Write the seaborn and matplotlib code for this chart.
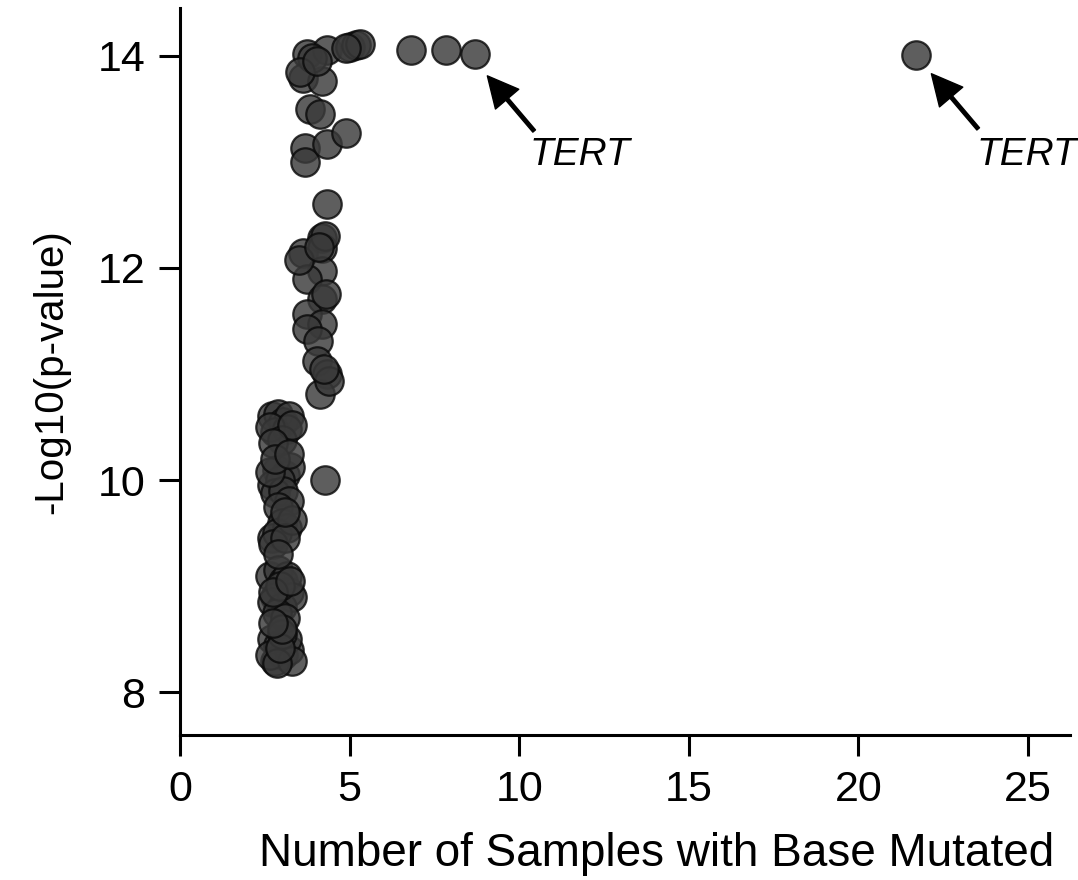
import numpy as np
import pandas as pd
import seaborn as sns
import matplotlib
matplotlib.use("Agg")
import matplotlib.pyplot as plt

# samples with base mutated / -log10(p)
x_top = [5.0, 5.2, 5.3, 4.9, 6.8, 7.85, 8.7, 21.7]
y_top = [14.08, 14.1, 14.11, 14.07, 14.05, 14.05, 14.02, 14.01]

x_upper = [3.74, 3.62, 4.2, 4.32, 3.9, 3.55, 4.05, 3.82, 4.12, 3.68, 3.68, 4.32, 4.9, 4.32]
y_upper = [14.02, 13.79, 13.76, 14.05, 13.98, 13.85, 13.95, 13.5, 13.45, 13.13, 13.0, 13.17, 13.27, 12.6]

x_mid = [4.2, 3.62, 4.2, 4.18, 3.74, 4.2, 3.74, 4.2, 3.74, 4.06, 4.03, 4.32, 4.12,
         4.4, 3.5, 4.26, 4.1, 4.3, 4.25]
y_mid = [12.28, 12.14, 12.19, 11.97, 11.9, 11.71, 11.57, 11.47, 11.42, 11.31, 11.12, 11.0, 10.81,
         10.93, 12.07, 12.3, 12.2, 11.75, 11.05]

x_low = [4.26,
         2.7, 2.9, 3.05, 3.2, 2.8, 3.15, 2.65, 3.0, 3.3, 2.75,
         2.85, 3.1, 2.7, 3.25, 2.95, 2.8, 3.05, 2.65, 3.2, 2.9,
         3.0, 2.7, 3.15, 2.85, 3.3, 2.75, 3.1,
         2.65, 2.9, 3.05, 3.2, 2.8, 3.15, 2.7, 3.0, 3.3, 2.85, 2.95, 3.1, 2.75, 3.25,
         2.7, 2.9, 3.05, 3.2, 2.8, 3.15, 2.65, 3.0, 3.3, 2.85, 2.95,
         2.8, 3.1, 2.9, 3.0, 2.75, 3.2]
y_low = [10.0,
         10.6, 10.62, 10.55, 10.6, 10.45, 10.48, 10.5, 10.38, 10.52, 10.35,
         10.1, 10.05, 9.95, 10.12, 10.0, 9.88, 9.9, 10.08, 9.8, 9.75,
         9.6, 9.45, 9.55, 9.5, 9.62, 9.4, 9.45,
         9.1, 9.15, 9.05, 8.95, 8.9, 9.1, 8.85, 8.8, 8.9, 8.75, 9.0, 8.7, 8.95, 9.05,
         8.5, 8.45, 8.35, 8.4, 8.3, 8.5, 8.35, 8.55, 8.3, 8.28, 8.42,
         10.2, 9.7, 9.3, 8.6, 8.65, 10.25]

df = pd.DataFrame({
    "samples": x_low + x_mid + x_upper + x_top,
    "pval": y_low + y_mid + y_upper + y_top,
})

sns.set_style("ticks")
plt.rcParams["font.family"] = ["Liberation Sans", "DejaVu Sans"]
for key in ["text.color", "axes.labelcolor", "xtick.color", "ytick.color", "axes.edgecolor"]:
    plt.rcParams[key] = "black"

fig = plt.figure(figsize=(10.78, 8.8), dpi=100)
ax = fig.add_axes([0.167, 0.165, 0.826, 0.826])

sns.scatterplot(data=df, x="samples", y="pval", s=420, color="#3a3a3a",
                edgecolor="#0a0a0a", linewidth=1.6, alpha=0.82, ax=ax)

ax.set_xlim(0, 26.25)
ax.set_ylim(7.6, 14.45)
ax.set_xticks([0, 5, 10, 15, 20, 25])
ax.set_yticks([8, 10, 12, 14])
ax.tick_params(axis="both", labelsize=31, length=15, width=2.2, direction="out", pad=10)
for sp in ["top", "right"]:
    ax.spines[sp].set_visible(False)
for sp in ["left", "bottom"]:
    ax.spines[sp].set_linewidth(2.2)

ax.set_xlabel("Number of Samples with Base Mutated", fontsize=33, labelpad=16)
ax.xaxis.label.set_x(0.535)
ax.set_ylabel("-Log10(p-value)", fontsize=29, labelpad=20)

arrow = dict(facecolor="black", edgecolor="black", width=2.5, headwidth=22, headlength=22)
ax.annotate("", xy=(9.06, 13.81), xytext=(10.44, 13.29), arrowprops=arrow)
ax.annotate("", xy=(22.15, 13.83), xytext=(23.53, 13.31), arrowprops=arrow)
ax.text(10.3, 13.06, "TERT", fontsize=28, style="italic", va="center", ha="left")
ax.text(23.47, 13.06, "TERT", fontsize=28, style="italic", va="center", ha="left")

fig.savefig("out.png", dpi=100)
